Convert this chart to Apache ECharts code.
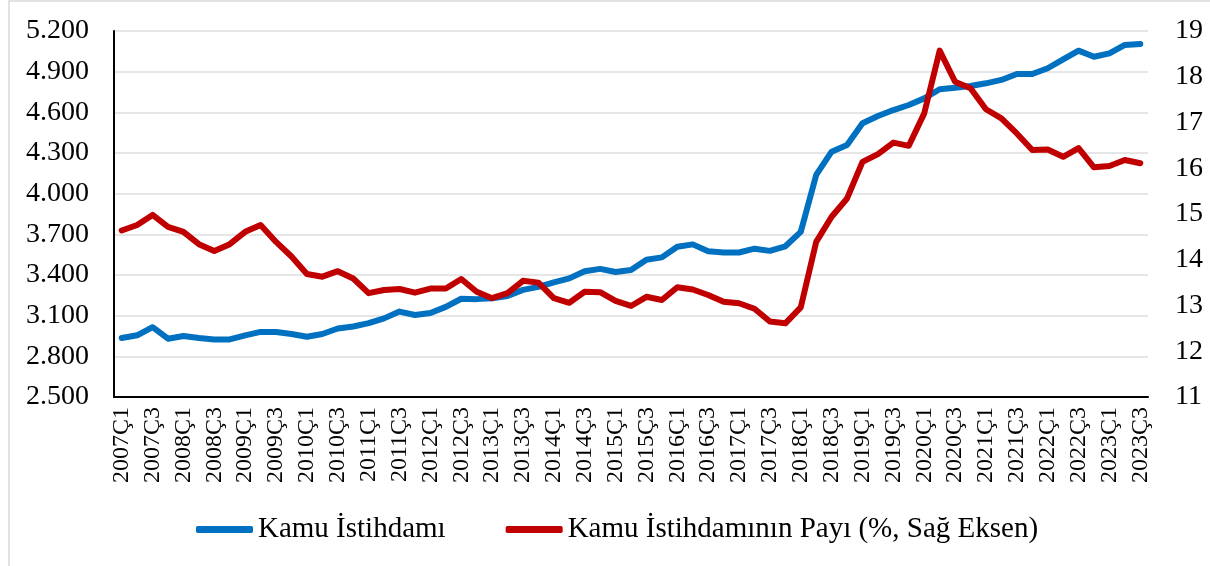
<!DOCTYPE html>
<html>
<head>
<meta charset="utf-8">
<script src="https://cdn.jsdelivr.net/npm/echarts@6/dist/echarts.min.js"></script>
<style>
    html, body { margin: 0; padding: 0; background: #fff; }
    #diagram { width: 1210px; height: 566px; }
</style>
</head>
<body>
<div id="diagram"></div>
<script>
    const quarters = [
        "2007Ç1", "2007Ç2", "2007Ç3", "2007Ç4", "2008Ç1", "2008Ç2", "2008Ç3", "2008Ç4",
        "2009Ç1", "2009Ç2", "2009Ç3", "2009Ç4", "2010Ç1", "2010Ç2", "2010Ç3", "2010Ç4",
        "2011Ç1", "2011Ç2", "2011Ç3", "2011Ç4", "2012Ç1", "2012Ç2", "2012Ç3", "2012Ç4",
        "2013Ç1", "2013Ç2", "2013Ç3", "2013Ç4", "2014Ç1", "2014Ç2", "2014Ç3", "2014Ç4",
        "2015Ç1", "2015Ç2", "2015Ç3", "2015Ç4", "2016Ç1", "2016Ç2", "2016Ç3", "2016Ç4",
        "2017Ç1", "2017Ç2", "2017Ç3", "2017Ç4", "2018Ç1", "2018Ç2", "2018Ç3", "2018Ç4",
        "2019Ç1", "2019Ç2", "2019Ç3", "2019Ç4", "2020Ç1", "2020Ç2", "2020Ç3", "2020Ç4",
        "2021Ç1", "2021Ç2", "2021Ç3", "2021Ç4", "2022Ç1", "2022Ç2", "2022Ç3", "2022Ç4",
        "2023Ç1", "2023Ç2", "2023Ç3"
    ];

    // bin kişi, sol eksen
    const kamuIstihdami = [
        2935, 2955, 3015, 2930, 2950, 2935, 2925, 2925,
        2955, 2980, 2980, 2965, 2945, 2965, 3005, 3020,
        3045, 3080, 3130, 3105, 3120, 3165, 3225, 3222,
        3228, 3245, 3290, 3312, 3345, 3375, 3428, 3445,
        3422, 3437, 3513, 3530, 3609, 3626, 3575, 3566,
        3566, 3594, 3578, 3612, 3718, 4138, 4310, 4359,
        4519, 4573, 4617, 4654, 4703, 4770, 4782, 4794,
        4814, 4839, 4883, 4883, 4925, 4991, 5055, 5010,
        5035, 5097, 5104
    ];

    // %, sağ eksen
    const kamuPayi = [
        14.64, 14.76, 14.98, 14.72, 14.61, 14.34, 14.19, 14.34,
        14.61, 14.76, 14.39, 14.07, 13.69, 13.63, 13.75, 13.59,
        13.27, 13.34, 13.36, 13.28, 13.37, 13.37, 13.58, 13.30,
        13.16, 13.27, 13.54, 13.50, 13.16, 13.06, 13.30, 13.29,
        13.10, 12.99, 13.19, 13.12, 13.40, 13.35, 13.23, 13.08,
        13.05, 12.93, 12.65, 12.61, 12.96, 14.39, 14.94, 15.34,
        16.14, 16.31, 16.56, 16.49, 17.20, 18.57, 17.89, 17.75,
        17.29, 17.09, 16.76, 16.40, 16.41, 16.25, 16.44, 16.02,
        16.05, 16.18, 16.11
    ];

    const seriesNames = ["Kamu İstihdamı", "Kamu İstihdamının Payı (%, Sağ Eksen)"];

    const font = "'Liberation Serif', 'Times New Roman', serif";

    let myChart = echarts.init(document.getElementById('diagram'));

    myChart.setOption({
        animation: false,
        textStyle: {fontFamily: font, color: "#000"},
        graphic: [{
            type: "rect",
            shape: {x: 9, y: 1, width: 1400, height: 800},
            style: {fill: null, stroke: "#d9d9d9", lineWidth: 1.5},
            silent: true
        }],
        grid: {
            left: 114,
            right: 62,
            top: 31,
            bottom: 169
        },
        legend: {
            left: 191,
            top: 510,
            icon: "roundRect",
            itemWidth: 57,
            itemHeight: 7,
            itemGap: 60,
            textStyle: {fontFamily: font, fontSize: 29, color: "#000"},
            data: seriesNames
        },
        xAxis: {
            type: "category",
            data: quarters,
            boundaryGap: true,
            axisLine: {lineStyle: {color: "#000", width: 2}},
            axisTick: {show: false},
            axisLabel: {
                interval: 1,
                rotate: 90,
                margin: 10,
                fontFamily: font,
                fontSize: 24,
                color: "#000"
            }
        },
        yAxis: [{
            type: "value",
            min: 2500,
            max: 5200,
            interval: 300,
            axisLine: {show: true, lineStyle: {color: "#000", width: 2}},
            axisTick: {show: false},
            splitLine: {lineStyle: {color: "#e6e6e6", width: 2}},
            axisLabel: {
                margin: 25,
                fontFamily: font,
                fontSize: 28,
                color: "#000",
                formatter: v => v.toLocaleString("de-DE")
            }
        }, {
            type: "value",
            min: 11,
            max: 19,
            interval: 1,
            axisLine: {show: false},
            axisTick: {show: false},
            splitLine: {show: false},
            axisLabel: {
                margin: 27,
                fontFamily: font,
                fontSize: 28,
                color: "#000"
            }
        }],
        series: [{
            name: seriesNames[0],
            type: "line",
            yAxisIndex: 0,
            data: kamuIstihdami,
            symbol: "none",
            itemStyle: {color: "#0070c0"},
            lineStyle: {color: "#0070c0", width: 6, cap: "round", join: "round"}
        }, {
            name: seriesNames[1],
            type: "line",
            yAxisIndex: 1,
            data: kamuPayi,
            symbol: "none",
            itemStyle: {color: "#c00000"},
            lineStyle: {color: "#c00000", width: 6, cap: "round", join: "round"}
        }]
    });
</script>
</body>
</html>
